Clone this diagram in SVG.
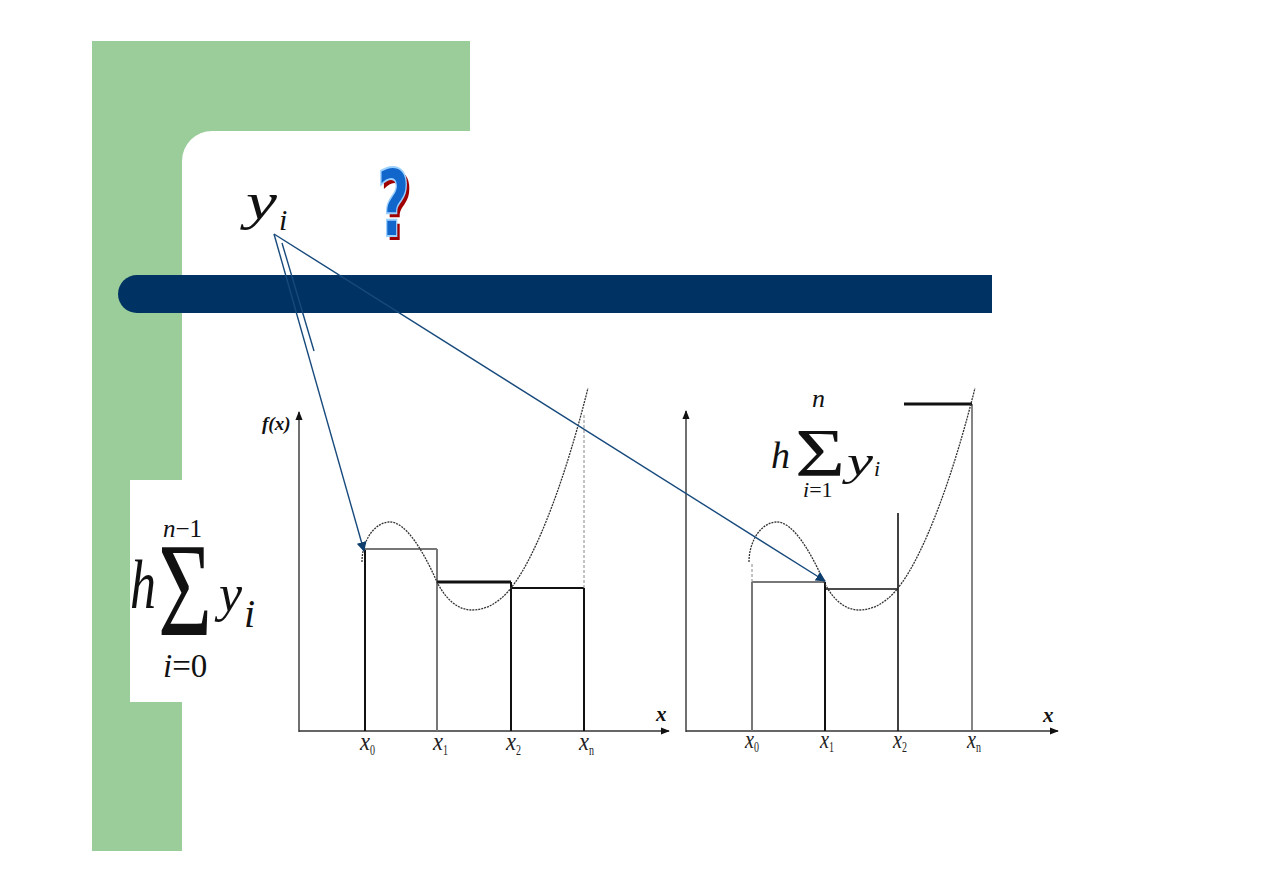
<svg xmlns="http://www.w3.org/2000/svg" width="1263" height="893" viewBox="0 0 1263 893">
<defs>
<style>
.serif{font-family:'Liberation Serif','DejaVu Serif',serif;fill:#111}
.it{font-style:italic}
.ax{stroke:#333;stroke-width:1.4;fill:none}
.blk{stroke:#111;stroke-width:2;fill:none}
.gry{stroke:#777;stroke-width:2;fill:none}
.curve{stroke:#333;stroke-width:1.3;fill:none;stroke-dasharray:2 1}
.dash{stroke:#888;stroke-width:1;fill:none;stroke-dasharray:3 2}
.conn{stroke:#174a7c;stroke-width:1.4;fill:none}
.lx{font-family:'Liberation Serif','DejaVu Serif',serif;font-style:italic;font-size:25px;fill:#222}
.ls{font-family:'Liberation Serif','DejaVu Serif',serif;font-size:15px;fill:#222}
.axl{font-family:'Liberation Serif','DejaVu Serif',serif;font-style:italic;font-weight:bold;fill:#111}
</style>
<marker id="ah" viewBox="0 0 10 10" refX="9" refY="5" markerWidth="10" markerHeight="10" markerUnits="userSpaceOnUse" orient="auto">
<path d="M0,0 L10,5 L0,10 z" fill="#0e3e6e"/>
</marker>
<marker id="axh" viewBox="0 0 10 10" refX="9" refY="5" markerWidth="9" markerHeight="9" markerUnits="userSpaceOnUse" orient="auto">
<path d="M0,1 L10,5 L0,9 z" fill="#111"/>
</marker>
</defs>
<rect width="1263" height="893" fill="#ffffff"/>
<g id="background">
<rect x="92" y="41" width="378" height="90" fill="#9acd9a"/>
<rect x="92" y="41" width="90" height="810" fill="#9acd9a"/>
<path d="M182,161 A30,30 0 0 1 212,131 L182,131 Z" fill="#9acd9a"/>
<rect x="130" y="480" width="135" height="222" fill="#ffffff"/>
<path d="M137,275 L992,275 L992,313 L137,313 A19,19 0 0 1 137,275 Z" fill="#003264"/>
</g>
<g id="question">
<text x="380" y="240" font-family="'DejaVu Sans',sans-serif" font-weight="bold" font-size="92" textLength="33" lengthAdjust="spacingAndGlyphs" fill="#a00000">?</text>
<text x="377" y="236" font-family="'DejaVu Sans',sans-serif" font-weight="bold" font-size="92" textLength="33" lengthAdjust="spacingAndGlyphs" fill="#1166cc" stroke="#9cd0ff" stroke-width="2">?</text>
</g>
<g id="yi-label">
<text class="serif it" x="246" y="219" font-size="52" textLength="31" lengthAdjust="spacingAndGlyphs">y</text>
<text class="serif it" x="279" y="230" font-size="30">i</text>
</g>
<g id="formula-left">
<text class="serif it" x="130" y="608" font-size="70" textLength="26" lengthAdjust="spacingAndGlyphs">h</text>
<text class="serif" x="158" y="635" font-size="133" textLength="54" lengthAdjust="spacingAndGlyphs">Σ</text>
<text class="serif" x="163" y="537" font-size="25"><tspan font-style="italic">n</tspan>−1</text>
<text class="serif it" x="219" y="611" font-size="52">y</text>
<text class="serif it" x="244" y="627" font-size="40">i</text>
<text class="serif" x="163" y="677" font-size="33"><tspan font-style="italic">i</tspan>=0</text>
</g>
<g id="formula-right">
<text class="serif it" x="771" y="468" font-size="38">h</text>
<text class="serif" x="795" y="475" font-size="68" textLength="50" lengthAdjust="spacingAndGlyphs">Σ</text>
<text class="serif it" x="812" y="407" font-size="26">n</text>
<text class="serif it" x="847" y="475" font-size="40" textLength="26" lengthAdjust="spacingAndGlyphs">y</text>
<text class="serif it" x="874" y="476" font-size="22">i</text>
<text class="serif" x="803" y="497" font-size="22"><tspan font-style="italic">i</tspan>=1</text>
</g>
<g id="chart-left">
<line class="ax" x1="299" y1="732" x2="299" y2="412" marker-end="url(#axh)"/>
<line class="ax" x1="299" y1="731" x2="669" y2="731" marker-end="url(#axh)"/>
<text class="axl" x="262" y="430" font-size="19">f(x)</text>
<text class="axl" x="656" y="721" font-size="21">x</text>
<line class="blk" x1="365" y1="731" x2="365" y2="549"/>
<line class="gry" x1="365" y1="549" x2="437" y2="549"/>
<line class="gry" x1="437" y1="549" x2="437" y2="731"/>
<line x1="437" y1="582" x2="511" y2="582" stroke="#111" stroke-width="3"/>
<line class="blk" x1="511" y1="582" x2="511" y2="731"/>
<line class="blk" x1="511" y1="588" x2="584" y2="588"/>
<line class="blk" x1="584" y1="588" x2="584" y2="731"/>
<line class="dash" x1="584" y1="588" x2="584" y2="415"/>
<path class="curve" d="M362,562 C362,540 375,522 390,522 C405,522 422,548 437,582 C447,602 460,610 472,610 C490,610 503,598 511,588 C530,565 560,500 588,388"/>
<text class="lx" x="360" y="750" textLength="10" lengthAdjust="spacingAndGlyphs">x</text><text class="ls" x="370" y="755" textLength="5" lengthAdjust="spacingAndGlyphs">0</text>
<text class="lx" x="433" y="750" textLength="10" lengthAdjust="spacingAndGlyphs">x</text><text class="ls" x="443" y="755" textLength="5" lengthAdjust="spacingAndGlyphs">1</text>
<text class="lx" x="506" y="750" textLength="10" lengthAdjust="spacingAndGlyphs">x</text><text class="ls" x="516" y="755" textLength="5" lengthAdjust="spacingAndGlyphs">2</text>
<text class="lx" x="579" y="750" textLength="10" lengthAdjust="spacingAndGlyphs">x</text><text class="ls" x="589" y="755" textLength="5" lengthAdjust="spacingAndGlyphs">n</text>
</g>
<g id="chart-right">
<line class="ax" x1="686" y1="732" x2="686" y2="411" marker-end="url(#axh)"/>
<line class="ax" x1="686" y1="731" x2="1058" y2="731" marker-end="url(#axh)"/>
<text class="axl" x="1043" y="722" font-size="21">x</text>
<line class="gry" x1="752" y1="731" x2="752" y2="582"/>
<line class="gry" x1="752" y1="582" x2="825" y2="582"/>
<line class="blk" x1="825" y1="582" x2="825" y2="731"/>
<line x1="825" y1="589" x2="898" y2="589" stroke="#111" stroke-width="1.6"/>
<line x1="898" y1="513" x2="898" y2="731" stroke="#111" stroke-width="1.6"/>
<line x1="972" y1="404" x2="972" y2="731" stroke="#666" stroke-width="1.6"/>
<line x1="904" y1="404" x2="972" y2="404" stroke="#111" stroke-width="3"/>
<line class="dash" x1="752" y1="582" x2="752" y2="563"/>
<path class="curve" d="M749,562 C749,540 762,522 777,522 C792,522 809,548 824,582 C834,602 847,610 859,610 C877,610 890,598 898,588 C917,565 947,500 975,388"/>
<text class="lx" x="745" y="748" textLength="9" lengthAdjust="spacingAndGlyphs">x</text><text class="ls" x="754" y="752" textLength="5" lengthAdjust="spacingAndGlyphs">0</text>
<text class="lx" x="820" y="748" textLength="9" lengthAdjust="spacingAndGlyphs">x</text><text class="ls" x="829" y="752" textLength="5" lengthAdjust="spacingAndGlyphs">1</text>
<text class="lx" x="893" y="748" textLength="9" lengthAdjust="spacingAndGlyphs">x</text><text class="ls" x="902" y="752" textLength="5" lengthAdjust="spacingAndGlyphs">2</text>
<text class="lx" x="967" y="748" textLength="9" lengthAdjust="spacingAndGlyphs">x</text><text class="ls" x="976" y="752" textLength="5" lengthAdjust="spacingAndGlyphs">n</text>
</g>
<g id="connectors">
<line class="conn" x1="274" y1="234" x2="364" y2="551" marker-end="url(#ah)"/>
<line class="conn" x1="282" y1="243" x2="314" y2="351"/>
<line class="conn" x1="274" y1="234" x2="825" y2="581" marker-end="url(#ah)"/>
</g>
</svg>
